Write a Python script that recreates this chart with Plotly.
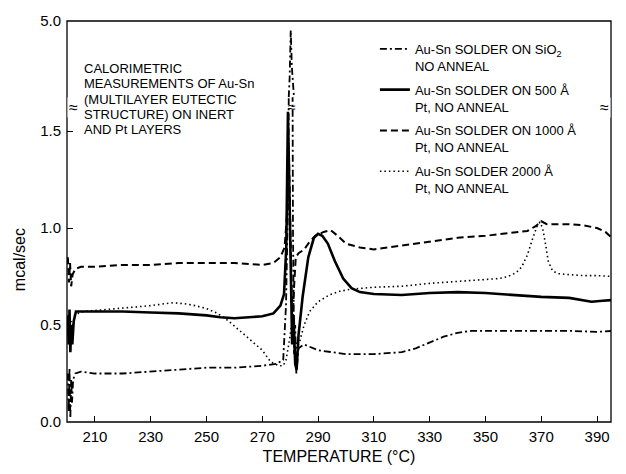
import plotly.graph_objects as go

# ---- data ----
t_sio2 = [200.3, 200.6, 200.9, 201.2, 201.5, 201.8, 202.2, 203, 205, 210, 220, 230, 240, 250, 260, 270, 275,
          277.5, 278.5, 279.3, 279.8, 280.2, 280.6, 281.0, 281.4, 281.8, 282.2, 283, 285, 290, 300, 310, 320,
          325, 330, 335, 340, 345, 350, 360, 370, 380, 390, 396]
y_sio2 = [0.25, 0.05, 0.28, 0.02, 0.22, 0.10, 0.22, 0.25, 0.26, 0.25, 0.25, 0.26, 0.27, 0.28, 0.28, 0.29, 0.30,
          0.32, 0.6, 1.2, 2.5, 4.6, 3.0, 1.0, 0.35, 0.5, 0.25, 0.38, 0.40, 0.37, 0.35, 0.35, 0.36,
          0.38, 0.41, 0.44, 0.46, 0.47, 0.47, 0.47, 0.47, 0.47, 0.465, 0.47]

t_pt500 = [200.3, 200.6, 200.9, 201.2, 201.5, 201.9, 202.4, 203.2, 205, 210, 220, 230, 240, 250, 255, 260, 265,
           270, 274, 276.5, 277.8, 278.6, 279.2, 279.7, 280.2, 280.7, 281.2, 281.8, 282.3, 283, 284.5, 286.5,
           288.5, 290, 291.5, 293.5, 296, 299, 302, 305, 310, 320, 330, 340, 350, 360, 370, 380, 388, 392, 396]
y_pt500 = [0.55, 0.40, 0.58, 0.36, 0.50, 0.40, 0.52, 0.57, 0.57, 0.57, 0.57, 0.565, 0.56, 0.55, 0.54, 0.535, 0.54,
           0.545, 0.56, 0.60, 0.66, 0.9, 1.6, 1.2, 0.65, 0.4, 0.55, 0.3, 0.27, 0.45, 0.65, 0.85,
           0.95, 0.97, 0.96, 0.92, 0.83, 0.74, 0.69, 0.67, 0.66, 0.655, 0.665, 0.67, 0.665, 0.655, 0.645, 0.64,
           0.62, 0.625, 0.63]

t_pt1000 = [200.3, 200.7, 201.1, 201.5, 202, 203, 205, 210, 220, 230, 240, 250, 260, 270, 274, 276.5, 278, 279,
            279.6, 280.2, 280.8, 281.4, 282, 283, 285, 287, 289, 292, 294.5, 297, 300, 305, 310, 320, 330, 340,
            350, 360, 365, 368, 370, 372, 376, 380, 385, 390, 393, 396]
y_pt1000 = [0.85, 0.72, 0.82, 0.70, 0.76, 0.79, 0.80, 0.80, 0.81, 0.81, 0.82, 0.82, 0.82, 0.81, 0.82, 0.85, 0.90,
            1.1, 1.35, 0.9, 0.5, 0.7, 0.85, 0.87, 0.89, 0.93, 0.96, 0.98, 0.99, 0.96, 0.92, 0.90, 0.89, 0.91,
            0.93, 0.95, 0.96, 0.975, 0.985, 1.01, 1.035, 1.02, 1.02, 1.02, 1.015, 1.0, 0.98, 0.94]

t_pt2000 = [200.5, 201, 201.5, 202, 203, 204, 206, 210, 215, 220, 225, 230, 235, 238, 242, 246, 250, 254, 258,
            262, 266, 270, 273, 276, 277.5, 278.5, 279.5, 280.5, 281.5, 282.5, 283.5, 285, 287, 290, 294, 298,
            302, 306, 310, 320, 330, 340, 350, 355, 358, 361, 363, 365, 367, 368.5, 369.5, 370.5, 371.5, 372.5,
            374, 376, 380, 385, 390, 396]
y_pt2000 = [0.5, 0.45, 0.52, 0.50, 0.55, 0.56, 0.57, 0.575, 0.58, 0.585, 0.59, 0.60, 0.61, 0.615, 0.61, 0.60,
            0.585, 0.56, 0.52, 0.47, 0.42, 0.37, 0.31, 0.29, 0.29, 0.32, 0.40, 0.5, 0.45, 0.38, 0.42, 0.50, 0.57,
            0.62, 0.655, 0.675, 0.685, 0.69, 0.695, 0.70, 0.715, 0.725, 0.735, 0.74, 0.75, 0.77, 0.80, 0.86,
            0.95, 1.01, 1.03, 1.0, 0.92, 0.83, 0.78, 0.765, 0.76, 0.755, 0.755, 0.75]

names = ["Au-Sn SOLDER ON SiO<sub>2</sub><br>NO ANNEAL",
         "Au-Sn SOLDER ON 500 Å<br>Pt, NO ANNEAL",
         "Au-Sn SOLDER ON 1000 Å<br>Pt, NO ANNEAL",
         "Au-Sn SOLDER 2000 Å<br>Pt, NO ANNEAL"]

note_lines = ["CALORIMETRIC", "MEASUREMENTS OF Au-Sn", "(MULTILAYER EUTECTIC",
              "STRUCTURE) ON INERT", "AND Pt LAYERS"]

x_ticks = [210, 230, 250, 270, 290, 310, 330, 350, 370, 390]
y_ticks_low = [0.0, 0.5, 1.0, 1.5]
y_ticks_high = [5.0]

series = [
    (t_sio2, y_sio2, dict(color="black", width=1.8, dash="7px,3px,2px,3px")),
    (t_pt500, y_pt500, dict(color="black", width=2.6, dash="solid")),
    (t_pt1000, y_pt1000, dict(color="black", width=2.0, dash="7px,4px")),
    (t_pt2000, y_pt2000, dict(color="black", width=1.6, dash="1.5px,3px")),
]

BREAK = 0.81
LOW_TOP = 1.675
PLOT_H = 474 - 20 - 49

fig = go.Figure()
for i, (t, y, ln) in enumerate(series):
    fig.add_trace(go.Scatter(x=t, y=y, mode="lines", line=ln, name=names[i],
                             legendgroup=str(i), xaxis="x", yaxis="y"))
    fig.add_trace(go.Scatter(x=t, y=y, mode="lines", line=ln, name=names[i], showlegend=False,
                             legendgroup=str(i), xaxis="x", yaxis="y2"))

font = "Liberation Sans, Arial, sans-serif"
fig.update_layout(
    width=626, height=474,
    margin=dict(l=67, r=15, t=20, b=49),
    paper_bgcolor="white", plot_bgcolor="white",
    font=dict(family=font, color="black", size=13),
    showlegend=True,
    legend=dict(x=0.566, y=0.968, xanchor="left", yanchor="top", bgcolor="rgba(0,0,0,0)",
                font=dict(size=13, family=font), tracegroupgap=4, valign="top", itemwidth=30),
    xaxis=dict(range=[200, 395], tickvals=x_ticks, ticks="inside", ticklen=6, tickcolor="black",
               showgrid=False, zeroline=False, showline=False, anchor="y",
               tickfont=dict(size=15), ticklabelstandoff=4,
               title=dict(text="TEMPERATURE (°C)", font=dict(size=16), standoff=6)),
    yaxis=dict(domain=[0, BREAK], range=[0, LOW_TOP], tickvals=y_ticks_low, ticktext=["0.0", "0.5", "1.0", "1.5"],
               ticks="inside", ticklen=6, tickcolor="black", showgrid=False, zeroline=False, showline=False,
               anchor="x", tickfont=dict(size=15), ticklabelstandoff=5,
               title=dict(text="mcal/sec", font=dict(size=16), standoff=10)),
    yaxis2=dict(domain=[BREAK, 1], range=[LOW_TOP, 5.0], tickvals=y_ticks_high, ticktext=["5.0"],
                ticks="", showgrid=False, zeroline=False, showline=False, anchor="x",
                tickfont=dict(size=15), ticklabelstandoff=5),
)

fig.add_shape(type="rect", xref="paper", yref="paper", x0=0, x1=1, y0=0, y1=1,
              line=dict(color="black", width=1.3), layer="above")

# break marks
for xp in [0, 1]:
    fig.add_annotation(x=xp, y=BREAK, xref="paper", yref="paper", text="≈", showarrow=False,
                       font=dict(size=16), bgcolor="white")
fig.add_annotation(x=280.6, y=BREAK, xref="x", yref="paper", text="≈", showarrow=False,
                   font=dict(size=14))

# note text, one line at a time (15.5 px pitch)
for k, line in enumerate(note_lines):
    py = 68 + 15.5 * k
    fig.add_annotation(x=0.027, y=(474 - 49 - py) / PLOT_H, xref="paper", yref="paper",
                       xanchor="left", yanchor="middle", align="left", showarrow=False,
                       font=dict(size=13), text=line)

fig.write_html("out.html")
